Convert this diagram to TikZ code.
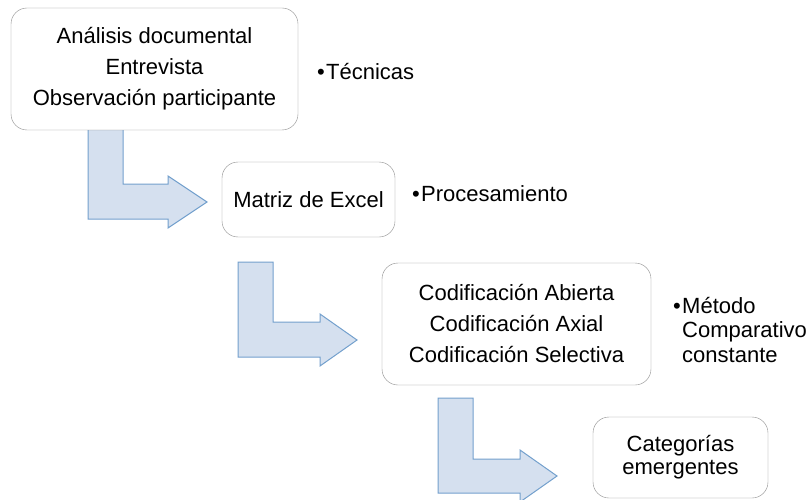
\documentclass[tikz,border=0pt]{standalone}
\usepackage{fontspec}
\setmainfont{Liberation Sans}
\usetikzlibrary{positioning}

\definecolor{arrowfill}{RGB}{213,224,239}
\definecolor{arrowline}{RGB}{115,160,205}
\definecolor{boxline}{RGB}{140,140,140}

\begin{document}
\begin{tikzpicture}[x=1pt,y=-1pt,
  box/.style={draw=boxline,rounded corners=16pt,fill=white,align=center,inner sep=0pt,
    font=\fontsize{22}{31}\selectfont},
  bent/.style={draw=arrowline,fill=arrowfill,line width=1pt,line join=miter},
  tag/.style={anchor=base west,align=left,inner sep=0pt,font=\fontsize{22}{24.5}\selectfont}]
 \useasboundingbox (0,0) rectangle (808,500);
 \clip (0,0) rectangle (808,500);
 % bent arrows
 \draw[bent](88,125)--(123,125)--(123,184)--(168,184)--(168,176)--(207,202)--(168,228)--(168,219)--(88,219)--cycle;
 \draw[bent](238,262)--(273,262)--(273,322)--(320,322)--(320,314)--(357,340)--(320,366)--(320,357)--(238,357)--cycle;
 \draw[bent](438,398)--(473,398)--(473,459)--(520,459)--(520,450)--(557,476)--(520,502)--(520,493)--(438,493)--cycle;
 % boxes
 \node[box,minimum width=287pt,minimum height=122pt] (analisis) at (154.5,69)
   {Análisis documental\\Entrevista\\Observación participante};
 \node[box,minimum width=173pt,minimum height=75pt] (matriz) at (308.5,199.5) {Matriz de Excel};
 \node[box,minimum width=269pt,minimum height=122pt] (codif) at (516.5,324)
   {Codificación Abierta\\Codificación Axial\\Codificación Selectiva};
 \node[box,minimum width=175pt,minimum height=81pt,font=\fontsize{22}{23}\selectfont] (categ) at (680.5,457.5)
   {Categorías\\emergentes};
 % labels
 \node[tag] (tecnicas) at (326,80) {\llap{\textbullet\kern1.5pt}Técnicas};
 \node[tag] (proceso) at (421,201) {\llap{\textbullet\kern1.5pt}Procesamiento};
 \node[tag] (metodo) at (682,362) {\llap{\textbullet\kern1.5pt}Método\\Comparativo\\constante};
\end{tikzpicture}
\end{document}
